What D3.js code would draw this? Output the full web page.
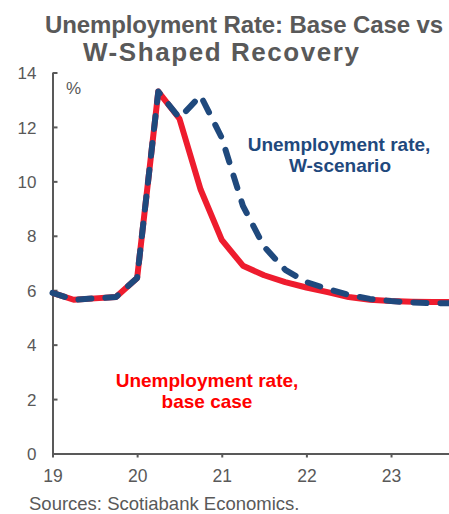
<!DOCTYPE html>
<html>
<head>
<meta charset="utf-8">
<script src="https://cdn.jsdelivr.net/npm/d3@7"></script>
<style>
  html, body { margin: 0; padding: 0; background: #fff; }
  svg { display: block; font-family: "Liberation Sans", Arial, sans-serif; }
</style>
</head>
<body>
<svg id="chart" width="449" height="514"></svg>
<script>
// Quarterly observations and projections (year = 2000 + value)
const quarters = [19.0, 19.25, 19.5, 19.75, 20.0, 20.25, 20.5, 20.75,
                  21.0, 21.25, 21.5, 21.75, 22.0, 22.25, 22.5, 22.75,
                  23.0, 23.25, 23.5, 23.75];
const baseCase = [5.9, 5.65, 5.7, 5.75, 6.45, 13.3, 12.3, 9.7,
                  7.85, 6.9, 6.55, 6.3, 6.1, 5.93, 5.75, 5.65,
                  5.6, 5.58, 5.57, 5.57];
const wScenario = [5.9, 5.65, 5.7, 5.75, 6.45, 13.3, 12.33, 13.15,
                   11.6, 9.1, 7.6, 6.75, 6.3, 6.05, 5.83, 5.68,
                   5.6, 5.55, 5.52, 5.52];
const xTicks = [19, 20, 21, 22, 23];
const yTicks = [0, 2, 4, 6, 8, 10, 12, 14];
const titleLines = ["Unemployment Rate: Base Case vs", "W-Shaped Recovery"];

const svg = d3.select("#chart");
const gray = "#595959";
const red = "#ee1c2e";
const navy = "#1f497d";

const x = d3.scaleLinear().domain([19, 23.75]).range([52.5, 454.5]);
const y = d3.scaleLinear().domain([0, 14]).range([453.5, 72.5]);

// Title
const titleSpecs = [
  { cx: 244, base: 33, len: 398, size: 24 },
  { cx: 221, base: 61, len: 276, size: 26 }
];
svg.selectAll("text.title").data(titleLines).join("text")
  .attr("class", "title")
  .attr("x", (d, i) => titleSpecs[i].cx)
  .attr("y", (d, i) => titleSpecs[i].base)
  .attr("text-anchor", "middle")
  .attr("textLength", (d, i) => titleSpecs[i].len)
  .attr("lengthAdjust", "spacing")
  .attr("font-size", (d, i) => titleSpecs[i].size)
  .attr("font-weight", "bold")
  .attr("fill", gray)
  .text(d => d);

// Y axis (ticks point into the plot)
const yAxis = svg.append("g")
  .attr("transform", `translate(${x(19)},0)`)
  .call(d3.axisRight(y).tickValues(yTicks).tickSize(5).tickSizeOuter(0).tickFormat(d3.format("d")));
yAxis.select(".domain").attr("stroke", gray).attr("stroke-width", 2);
yAxis.selectAll(".tick line").attr("stroke", gray).attr("stroke-width", 2);
yAxis.selectAll(".tick text")
  .attr("x", -16).attr("dy", "0.36em")
  .attr("text-anchor", "end")
  .attr("font-size", 17)
  .attr("font-family", "Liberation Sans, Arial, sans-serif")
  .attr("fill", gray);

// X axis
const xAxis = svg.append("g")
  .attr("transform", `translate(0,${y(0)})`)
  .call(d3.axisBottom(x).tickValues(xTicks).tickSize(4).tickSizeOuter(0).tickFormat(d3.format("d")));
xAxis.select(".domain").attr("stroke", gray).attr("stroke-width", 2);
xAxis.selectAll(".tick line").attr("stroke", gray).attr("stroke-width", 2);
xAxis.selectAll(".tick text")
  .attr("y", 28).attr("dy", 0)
  .attr("font-size", 17.5)
  .attr("font-family", "Liberation Sans, Arial, sans-serif")
  .attr("fill", gray);

// Unit label
svg.append("text")
  .attr("x", 66).attr("y", 94)
  .attr("font-size", 17)
  .attr("fill", gray)
  .text("%");

const line = d3.line()
  .x((d, i) => x(quarters[i]))
  .y(d => y(d));

// Base case (solid red)
svg.append("path")
  .datum(baseCase)
  .attr("d", line)
  .attr("fill", "none")
  .attr("stroke", red)
  .attr("stroke-width", 6)
  .attr("stroke-linejoin", "round");

// W-scenario (dashed navy)
svg.append("path")
  .datum(wScenario)
  .attr("d", line)
  .attr("fill", "none")
  .attr("stroke", navy)
  .attr("stroke-width", 6)
  .attr("stroke-dasharray", "13,14")
  .attr("stroke-linecap", "round")
  .attr("stroke-linejoin", "round");

// Series labels
const wLabel = svg.append("text")
  .attr("text-anchor", "middle")
  .attr("font-size", 19)
  .attr("font-weight", "bold")
  .attr("fill", navy);
wLabel.append("tspan").attr("x", 339).attr("y", 151).text("Unemployment rate,");
wLabel.append("tspan").attr("x", 340).attr("y", 172).text("W-scenario");

const bLabel = svg.append("text")
  .attr("text-anchor", "middle")
  .attr("font-size", 19)
  .attr("font-weight", "bold")
  .attr("fill", "#ff0000");
bLabel.append("tspan").attr("x", 207).attr("y", 387).text("Unemployment rate,");
bLabel.append("tspan").attr("x", 207).attr("y", 408).text("base case");

// Source note
svg.append("text")
  .attr("x", 29).attr("y", 510)
  .attr("font-size", 18.5)
  .attr("fill", gray)
  .text("Sources: Scotiabank Economics.");
</script>
</body>
</html>
